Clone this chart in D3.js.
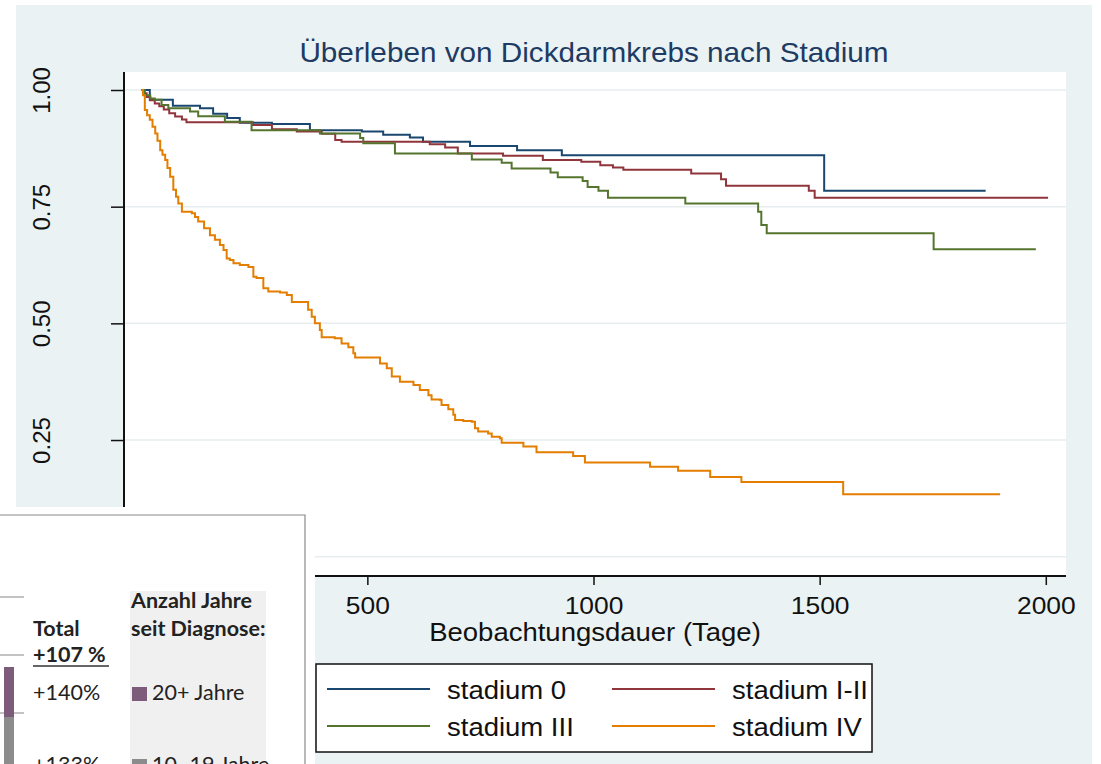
<!DOCTYPE html>
<html>
<head>
<meta charset="utf-8">
<script src="https://cdn.jsdelivr.net/npm/d3@7"></script>
<style>
  body { margin: 0; background: #fff; }
  svg { display: block; }
</style>
</head>
<body>
<script>
// Kaplan-Meier steps: [Tage, Überleben]
const stages = ["stadium 0", "stadium I-II", "stadium III", "stadium IV"];
const colors = ["#1a476f", "#90353b", "#55752f", "#e37e00"];

const stadium0 = [[0, 1], [19, 0.979], [70, 0.966], [130, 0.961], [159, 0.949], [190, 0.94], [218, 0.93],
  [289, 0.927], [373, 0.914], [488, 0.911], [535, 0.904], [594, 0.898], [623, 0.889], [727, 0.88],
  [831, 0.871], [930, 0.86], [1510, 0.784], [1867, 0.784]];

const stadium12 = [[0, 1], [5, 0.993], [12, 0.985], [20, 0.978], [30, 0.971], [40, 0.965], [50, 0.958],
  [62, 0.95], [75, 0.943], [90, 0.937], [100, 0.931], [247, 0.925], [289, 0.916], [344, 0.911],
  [399, 0.906], [429, 0.893], [443, 0.889], [638, 0.884], [672, 0.877], [700, 0.864], [800, 0.859],
  [888, 0.85], [973, 0.846], [1015, 0.839], [1043, 0.834], [1066, 0.829], [1216, 0.821], [1282, 0.809],
  [1293, 0.795], [1476, 0.784], [1489, 0.769], [2005, 0.769]];

const stadium3 = [[0, 1], [8, 0.989], [20, 0.982], [30, 0.979], [45, 0.968], [60, 0.961], [108, 0.954],
  [126, 0.944], [185, 0.932], [244, 0.914], [395, 0.907], [484, 0.897], [491, 0.886], [561, 0.864],
  [731, 0.851], [797, 0.844], [819, 0.832], [905, 0.823], [921, 0.813], [976, 0.805], [987, 0.792],
  [1011, 0.784], [1032, 0.769], [1203, 0.757], [1364, 0.739], [1371, 0.711], [1383, 0.693],
  [1752, 0.659], [1978, 0.659]];

const stadium4 = [[0, 1], [4, 0.989], [8, 0.957], [13, 0.946], [19, 0.936], [25, 0.921], [31, 0.907],
  [36, 0.891], [42, 0.871], [47, 0.861], [53, 0.85], [58, 0.833], [64, 0.814], [71, 0.786], [77, 0.771],
  [82, 0.757], [90, 0.739], [112, 0.736], [119, 0.728], [126, 0.718], [139, 0.704], [152, 0.689],
  [163, 0.679], [174, 0.668], [182, 0.657], [189, 0.639], [196, 0.636], [204, 0.629], [218, 0.625],
  [237, 0.621], [248, 0.6], [255, 0.597], [270, 0.575], [281, 0.568], [307, 0.566], [322, 0.561],
  [333, 0.546], [369, 0.529], [377, 0.514], [384, 0.5], [395, 0.486], [399, 0.47], [428, 0.468],
  [443, 0.457], [458, 0.449], [469, 0.436], [473, 0.427], [528, 0.414], [543, 0.404], [554, 0.386],
  [572, 0.375], [602, 0.368], [616, 0.357], [635, 0.346], [642, 0.337], [661, 0.336], [664, 0.325],
  [679, 0.316], [690, 0.304], [694, 0.293], [712, 0.291], [731, 0.289], [738, 0.275], [745, 0.268],
  [767, 0.264], [775, 0.257], [793, 0.254], [797, 0.244], [845, 0.236], [874, 0.224], [955, 0.216],
  [981, 0.202], [1125, 0.193], [1187, 0.184], [1258, 0.171], [1327, 0.16], [1552, 0.134], [1899, 0.134]];

const series = [stadium0, stadium12, stadium3, stadium4];
const yTicks = [0, 0.25, 0.5, 0.75, 1];
const xTicks = [0, 500, 1000, 1500, 2000];
const title = "Überleben von Dickdarmkrebs nach Stadium";
const xTitle = "Beobachtungsdauer (Tage)";

// overlapping clipping from another graphic (bottom left)
const insetLeft = ["Total", "+107 %", "+140%", "+133%"];
const insetHead = ["Anzahl Jahre", "seit Diagnose:"];
const insetKeys = ["20+ Jahre", "10–19 Jahre"];
const insetColors = ["#7d5c7b", "#8c8c8c"];

const font = "'Liberation Sans', Arial, sans-serif";
const sx = 1.1; // the picture is a bit stretched sideways

const svg = d3.select("body").append("svg").attr("width", 1101).attr("height", 764);

svg.append("rect").attr("x", 16).attr("y", 5).attr("width", 1076).attr("height", 759).attr("fill", "#eaf2f3");
svg.append("rect").attr("x", 124).attr("y", 72).attr("width", 942).attr("height", 504).attr("fill", "#fff");

const x = d3.scaleLinear().domain([0, 2000]).range([141.2, 1045.8]);
const y = d3.scaleLinear().domain([0, 1]).range([556.7, 90]);

function text(g, px, py, str, size, anchor = "start") {
  return g.append("text")
    .attr("transform", `translate(${px},${py}) scale(${sx},1)`)
    .attr("text-anchor", anchor)
    .style("font", `${size}px ${font}`)
    .text(str);
}

// grid
svg.append("g").selectAll("line").data(yTicks).join("line")
  .attr("x1", 124).attr("x2", 1066)
  .attr("y1", (d) => y(d)).attr("y2", (d) => y(d))
  .attr("stroke", "#e6eef0").attr("stroke-width", 1.5);

// y axis (the 0.00 / 0 labels sit under the clipping, so they stay empty)
const yAxis = svg.append("g").attr("transform", "translate(124,0)")
  .call(d3.axisLeft(y).tickValues(yTicks).tickFormat((d) => (d ? d3.format(".2f")(d) : "")).tickSize(13).tickSizeOuter(0));
yAxis.select(".domain").remove();
yAxis.selectAll(".tick line").attr("stroke", "#111").attr("stroke-width", 1.5);
yAxis.selectAll(".tick text")
  .attr("x", null).attr("dy", null)
  .attr("transform", "translate(-74,0) rotate(-90)")
  .attr("text-anchor", "middle")
  .attr("fill", "#111")
  .style("font", `24px ${font}`);

// x axis
const xAxis = svg.append("g").attr("transform", "translate(0,576)")
  .call(d3.axisBottom(x).tickValues(xTicks).tickFormat((d) => (d ? d3.format("d")(d) : "")).tickSize(9).tickSizeOuter(0));
xAxis.select(".domain").remove();
xAxis.selectAll(".tick line").attr("stroke", "#111").attr("stroke-width", 1.5);
xAxis.selectAll(".tick text")
  .attr("y", null).attr("dy", null)
  .attr("transform", `translate(0,38) scale(${sx},1)`)
  .attr("fill", "#111")
  .style("font", `24px ${font}`);

svg.append("line").attr("x1", 124).attr("x2", 124).attr("y1", 72).attr("y2", 577)
  .attr("stroke", "#111").attr("stroke-width", 2);
svg.append("line").attr("x1", 123).attr("x2", 1066).attr("y1", 576).attr("y2", 576)
  .attr("stroke", "#111").attr("stroke-width", 2);

// curves
const line = d3.line().x((d) => x(d[0])).y((d) => y(d[1])).curve(d3.curveStepAfter);
svg.append("g").selectAll("path").data(series).join("path")
  .attr("d", line)
  .attr("fill", "none")
  .attr("stroke", (d, i) => colors[i])
  .attr("stroke-width", 2)
  .attr("stroke-linejoin", "miter");

// titles
text(svg, 594, 62, title, 27, "middle").attr("fill", "#1e3b63");
text(svg, 595, 641, xTitle, 25, "middle").attr("fill", "#111");

// legend
svg.append("rect").attr("x", 316).attr("y", 664).attr("width", 556).attr("height", 88)
  .attr("fill", "#fff").attr("stroke", "#111").attr("stroke-width", 1.5);
const lg = svg.append("g").selectAll("g").data(stages).join("g")
  .attr("transform", (d, i) => `translate(${[327, 612][i % 2]},${[689, 726][Math.floor(i / 2)]})`);
lg.append("line").attr("x1", 0).attr("x2", 103)
  .attr("stroke", (d, i) => colors[i]).attr("stroke-width", 2);
lg.each(function (d) {
  text(d3.select(this), 120, 10, d, 25).attr("fill", "#111");
});

// inset
const inset = svg.append("g");
const lato = "Lato, 'Open Sans', sans-serif";
inset.append("rect").attr("x", 0).attr("y", 507).attr("width", 315).attr("height", 257).attr("fill", "#fff");
inset.append("path").attr("d", "M0,515H305V764").attr("fill", "none").attr("stroke", "#8a8a8a").attr("stroke-width", 1.2);
inset.append("rect").attr("x", 130).attr("y", 591).attr("width", 136).attr("height", 173).attr("fill", "#f0f0f0");
inset.selectAll("line.g").data([597, 655, 713]).join("line")
  .attr("x1", 0).attr("x2", 24).attr("y1", (d) => d).attr("y2", (d) => d)
  .attr("stroke", "#9a9a9a").attr("stroke-width", 1.2);
inset.append("rect").attr("x", 4).attr("y", 667).attr("width", 10).attr("height", 50).attr("fill", insetColors[0]);
inset.append("rect").attr("x", 4).attr("y", 717).attr("width", 10).attr("height", 47).attr("fill", insetColors[1]);

const leftY = [636, 662, 700, 772];
insetLeft.forEach((t, i) => {
  inset.append("text").attr("x", 33).attr("y", leftY[i])
    .style("font", `${i < 2 ? "bold " : ""}21.5px ${lato}`).attr("fill", "#222").text(t);
});
inset.append("line").attr("x1", 33).attr("x2", 109).attr("y1", 666).attr("y2", 666)
  .attr("stroke", "#333").attr("stroke-width", 1.5);
insetHead.forEach((t, i) => {
  inset.append("text").attr("x", 131).attr("y", [608, 636][i])
    .style("font", `bold 21.5px ${lato}`).attr("fill", "#222").text(t);
});
insetKeys.forEach((t, i) => {
  const ky = [700, 772][i];
  inset.append("rect").attr("x", 132).attr("y", ky - 13).attr("width", 15).attr("height", 14).attr("fill", insetColors[i]);
  inset.append("text").attr("x", 152).attr("y", ky)
    .style("font", `21.5px ${lato}`).attr("fill", "#222").text(t);
});
</script>
</body>
</html>
